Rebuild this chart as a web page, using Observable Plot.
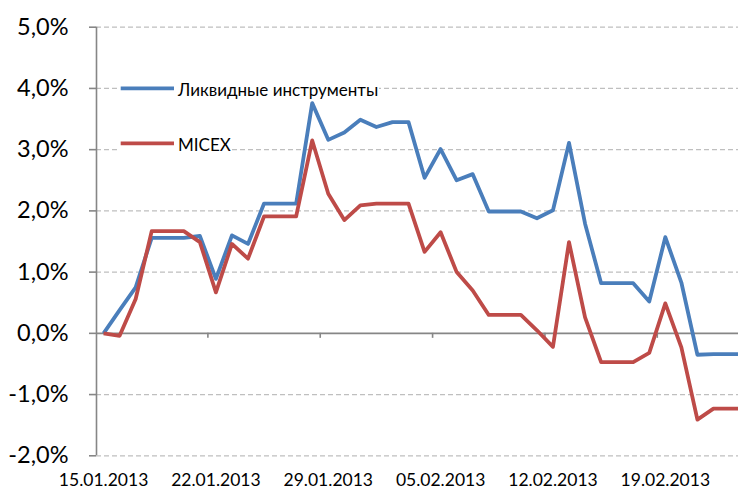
<!DOCTYPE html>
<html><head><meta charset="utf-8">
<script src="https://cdn.jsdelivr.net/npm/d3@7"></script>
<script src="https://cdn.jsdelivr.net/npm/@observablehq/plot@0.6"></script>
<style>
body{margin:0;background:#fff;}
#chart{position:relative;width:738px;height:487px;overflow:hidden;}
</style></head><body><div id="chart"></div>
<script>
const dates = [
  "2013-01-15","2013-01-16","2013-01-17","2013-01-18","2013-01-19","2013-01-20","2013-01-21",
  "2013-01-22","2013-01-23","2013-01-24","2013-01-25","2013-01-26","2013-01-27","2013-01-28",
  "2013-01-29","2013-01-30","2013-01-31","2013-02-01","2013-02-02","2013-02-03","2013-02-04",
  "2013-02-05","2013-02-06","2013-02-07","2013-02-08","2013-02-09","2013-02-10","2013-02-11",
  "2013-02-12","2013-02-13","2013-02-14","2013-02-15","2013-02-16","2013-02-17","2013-02-18",
  "2013-02-19","2013-02-20","2013-02-21","2013-02-22","2013-02-23","2013-02-24"
];
const liquid = [
  0.00, 0.38, 0.75, 1.56, 1.56, 1.56, 1.59,
  0.89, 1.60, 1.46, 2.12, 2.12, 2.12, 3.76,
  3.16, 3.28, 3.49, 3.37, 3.45, 3.45, 2.54,
  3.01, 2.50, 2.60, 1.99, 1.99, 1.99, 1.88,
  2.01, 3.11, 1.79, 0.82, 0.82, 0.82, 0.52,
  1.57, 0.83, -0.35, -0.34, -0.34, -0.34
];
const micex = [
  0.00, -0.04, 0.56, 1.67, 1.67, 1.67, 1.49,
  0.67, 1.46, 1.22, 1.91, 1.91, 1.91, 3.15,
  2.28, 1.85, 2.09, 2.12, 2.12, 2.12, 1.33,
  1.65, 1.00, 0.70, 0.30, 0.30, 0.30, 0.05,
  -0.22, 1.49, 0.26, -0.47, -0.47, -0.47, -0.32,
  0.49, -0.23, -1.41, -1.23, -1.23, -1.23
];
const seriesNames = ["Ликвидные инструменты", "MICEX"];
const colors = ["#4A7EBB", "#BE4B48"];
const yTicks = [-2, -1, 0, 1, 2, 3, 4, 5];
const xTickLabels = ["15.01.2013","22.01.2013","29.01.2013","05.02.2013","12.02.2013","19.02.2013"];

const parse = d3.utcParse("%Y-%m-%d");
const parseLabel = d3.utcParse("%d.%m.%Y");
const day = 864e5;
const rows = [];
seriesNames.forEach((name, s) => {
  const vals = s === 0 ? liquid : micex;
  dates.forEach((d, i) => rows.push({date: parse(d), value: vals[i], series: name}));
});
const t0 = parse(dates[0]);
const x0 = new Date(+t0 - 0.44 * day), x1 = new Date(+x0 + 40 * day);
const labelDates = xTickLabels.map(parseLabel);
const tickDates = labelDates.slice(1).map(d => new Date(+d - 0.5 * day));
const fmt = v => v.toFixed(1).replace(".", ",") + "%";

const plot = Plot.plot({
  width: 738, height: 487,
  marginTop: 26.7, marginBottom: 31.7, marginLeft: 96, marginRight: 0,
  style: {fontFamily: "Lato, sans-serif", background: "white", color: "#000"},
  x: {type: "utc", domain: [x0, x1], label: null},
  y: {domain: [-2, 5], label: null},
  color: {domain: seriesNames, range: colors},
  marks: [
    Plot.ruleY(yTicks.filter(v => v !== 0), {stroke: "#BFBFBF", strokeWidth: 1.3, strokeDasharray: "5,3"}),
    Plot.ruleY([0], {stroke: "#868686", strokeWidth: 1.6}),
    Plot.ruleX([x0], {y1: -2, y2: 5, stroke: "#868686", strokeWidth: 1.6}),
    Plot.ruleX(tickDates, {y1: 0, y2: 0, insetBottom: -5, stroke: "#868686", strokeWidth: 1.6}),
    Plot.axisY({ticks: yTicks, tickSize: 7, tickPadding: 21, tickFormat: fmt, fontSize: 23.5, stroke: "#868686", strokeWidth: 1.6, fill: "#000", strokeOpacity: 1, label: null}),
    Plot.axisX({ticks: labelDates, tickSize: 0, tickPadding: 17.5, tickFormat: d3.utcFormat("%d.%m.%Y"), fontSize: 17.5, fill: "#000", label: null}),
    Plot.line(rows, {x: "date", y: "value", z: "series", stroke: "series", strokeWidth: 3.8, strokeLinejoin: "round", strokeLinecap: "butt", clip: true})
  ]
});
document.getElementById("chart").appendChild(plot);

// legend inside the plot area
const svg = d3.select(plot);
const lg = svg.append("g").attr("font-family", "Lato, sans-serif").attr("font-size", 17).attr("text-anchor", "start");
const entries = [
  {name: seriesNames[0], color: colors[0], y: 88.3, w: 262},
  {name: seriesNames[1], color: colors[1], y: 143.3, w: 114}
];
entries.forEach(e => {
  lg.append("rect").attr("x", 117).attr("y", e.y - 11).attr("width", e.w).attr("height", 22).attr("fill", "white");
  lg.append("line").attr("x1", 120.7).attr("x2", 174).attr("y1", e.y).attr("y2", e.y)
    .attr("stroke", e.color).attr("stroke-width", 3.8);
  lg.append("text").attr("x", 178).attr("y", e.y + 7.5).attr("fill", "#000").attr("text-anchor", "start").text(e.name);
});
</script></body></html>
